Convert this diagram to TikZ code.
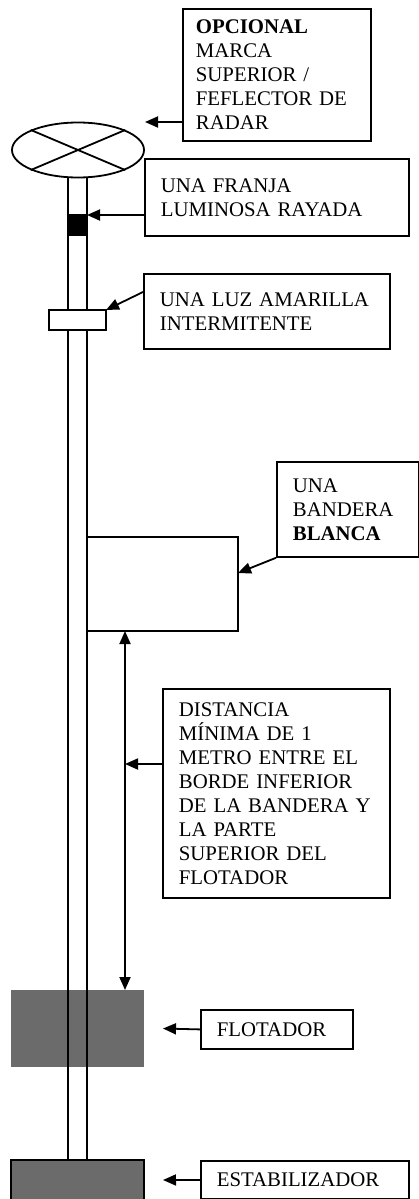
\documentclass[tikz,border=0pt]{standalone}
\usepackage{fontspec}
\setmainfont{Liberation Serif}
\usetikzlibrary{arrows.meta,shapes.geometric}

\begin{document}
\begin{tikzpicture}[
  x=1pt, y=-1pt,
  line width=1.8pt,
  font=\fontsize{20.8}{24}\selectfont,
  tag/.style={draw, anchor=north west, align=left, inner xsep=16pt, inner ysep=0pt},
  part/.style={draw, rectangle, inner sep=0pt, outer sep=0pt, anchor=north west},
  arrow/.style={-{Triangle[length=13pt,width=11pt]}},
  dimline/.style={{Triangle[length=13pt,width=11pt]}-{Triangle[length=13pt,width=11pt]}}
]
\colorlet{floatgray}{black!58}
\useasboundingbox (0,0) rectangle (419,1199);

% floater and pole
\node[part, draw=none, fill=floatgray, minimum width=133pt, minimum height=77pt] (floater) at (11,990) {};
\node[inner sep=0pt, outer sep=0pt, minimum width=19pt, minimum height=983pt, anchor=north west] (pole) at (68,177) {};
\draw (pole.north west) -- (pole.south west);
\draw (pole.north east) -- (pole.south east);

% parts on the pole
\node[ellipse, draw, minimum width=132pt, minimum height=55pt, inner sep=0pt] (radar) at (78,150) {};
\draw (radar.157) -- (radar.-23);
\draw (radar.23) -- (radar.203);
\node[part, fill=black, minimum width=19pt, minimum height=20pt] (stripe) at (68,215) {};
\node[part, fill=white, minimum width=57pt, minimum height=20pt] (light) at (49,310) {};
\node[part, minimum width=151pt, minimum height=94pt] (flag) at (87,537) {};
\node[part, fill=floatgray, minimum width=133pt, minimum height=40pt] (stab) at (11,1160) {};

% labels
\node[tag, inner xsep=13pt, text width=162pt, minimum height=132pt] (opc) at (182,8)
  {\textbf{OPCIONAL}\\MARCA\\SUPERIOR /\\FEFLECTOR DE\\RADAR};
\node[tag, text width=232pt, minimum height=77pt] (franja) at (144,158)
  {UNA FRANJA\\LUMINOSA RAYADA};
\node[tag, text width=214pt, minimum height=75pt] (luz) at (143,273)
  {UNA LUZ AMARILLA\\INTERMITENTE};
\node[tag, text width=110pt, minimum height=95pt] (bandera) at (276,461)
  {UNA\\BANDERA\\\textbf{BLANCA}};
\node[tag, text width=195pt, minimum height=209pt] (dist) at (162,688)
  {DISTANCIA\\MÍNIMA DE 1\\METRO ENTRE EL\\BORDE INFERIOR\\DE LA BANDERA Y\\LA PARTE\\SUPERIOR DEL\\FLOTADOR};
\node[tag, text width=120pt, minimum height=39pt] (flot) at (200,1009) {FLOTADOR};
\node[tag, text width=176pt, minimum height=38pt] (estab) at (200,1160) {ESTABILIZADOR};

% arrows
\coordinate (radartip) at (145,122);
\draw[arrow] (opc.west |- radartip) -- (radartip);
\draw[arrow] (franja.west |- stripe.north east) -- (stripe.north east);
\draw[arrow] ([yshift=-19pt]luz.north west) -- (light.north east);
\draw[arrow] (bandera.south west) -- ([yshift=11pt]flag.east);
\coordinate (dimtop) at ([xshift=38pt]flag.south west);
\draw[dimline] (dimtop) -- (dimtop |- floater.north);
\coordinate (distpin) at ([yshift=-76pt]dist.north west);
\draw[arrow] (distpin) -- (dimtop |- distpin);
\coordinate (floatpin) at ([xshift=19pt]floater.east);
\draw[arrow] (flot.west) -- (floatpin);
\coordinate (stabpin) at ([xshift=19pt]stab.east);
\draw[arrow] (estab.west) -- (stabpin);

\end{tikzpicture}
\end{document}
